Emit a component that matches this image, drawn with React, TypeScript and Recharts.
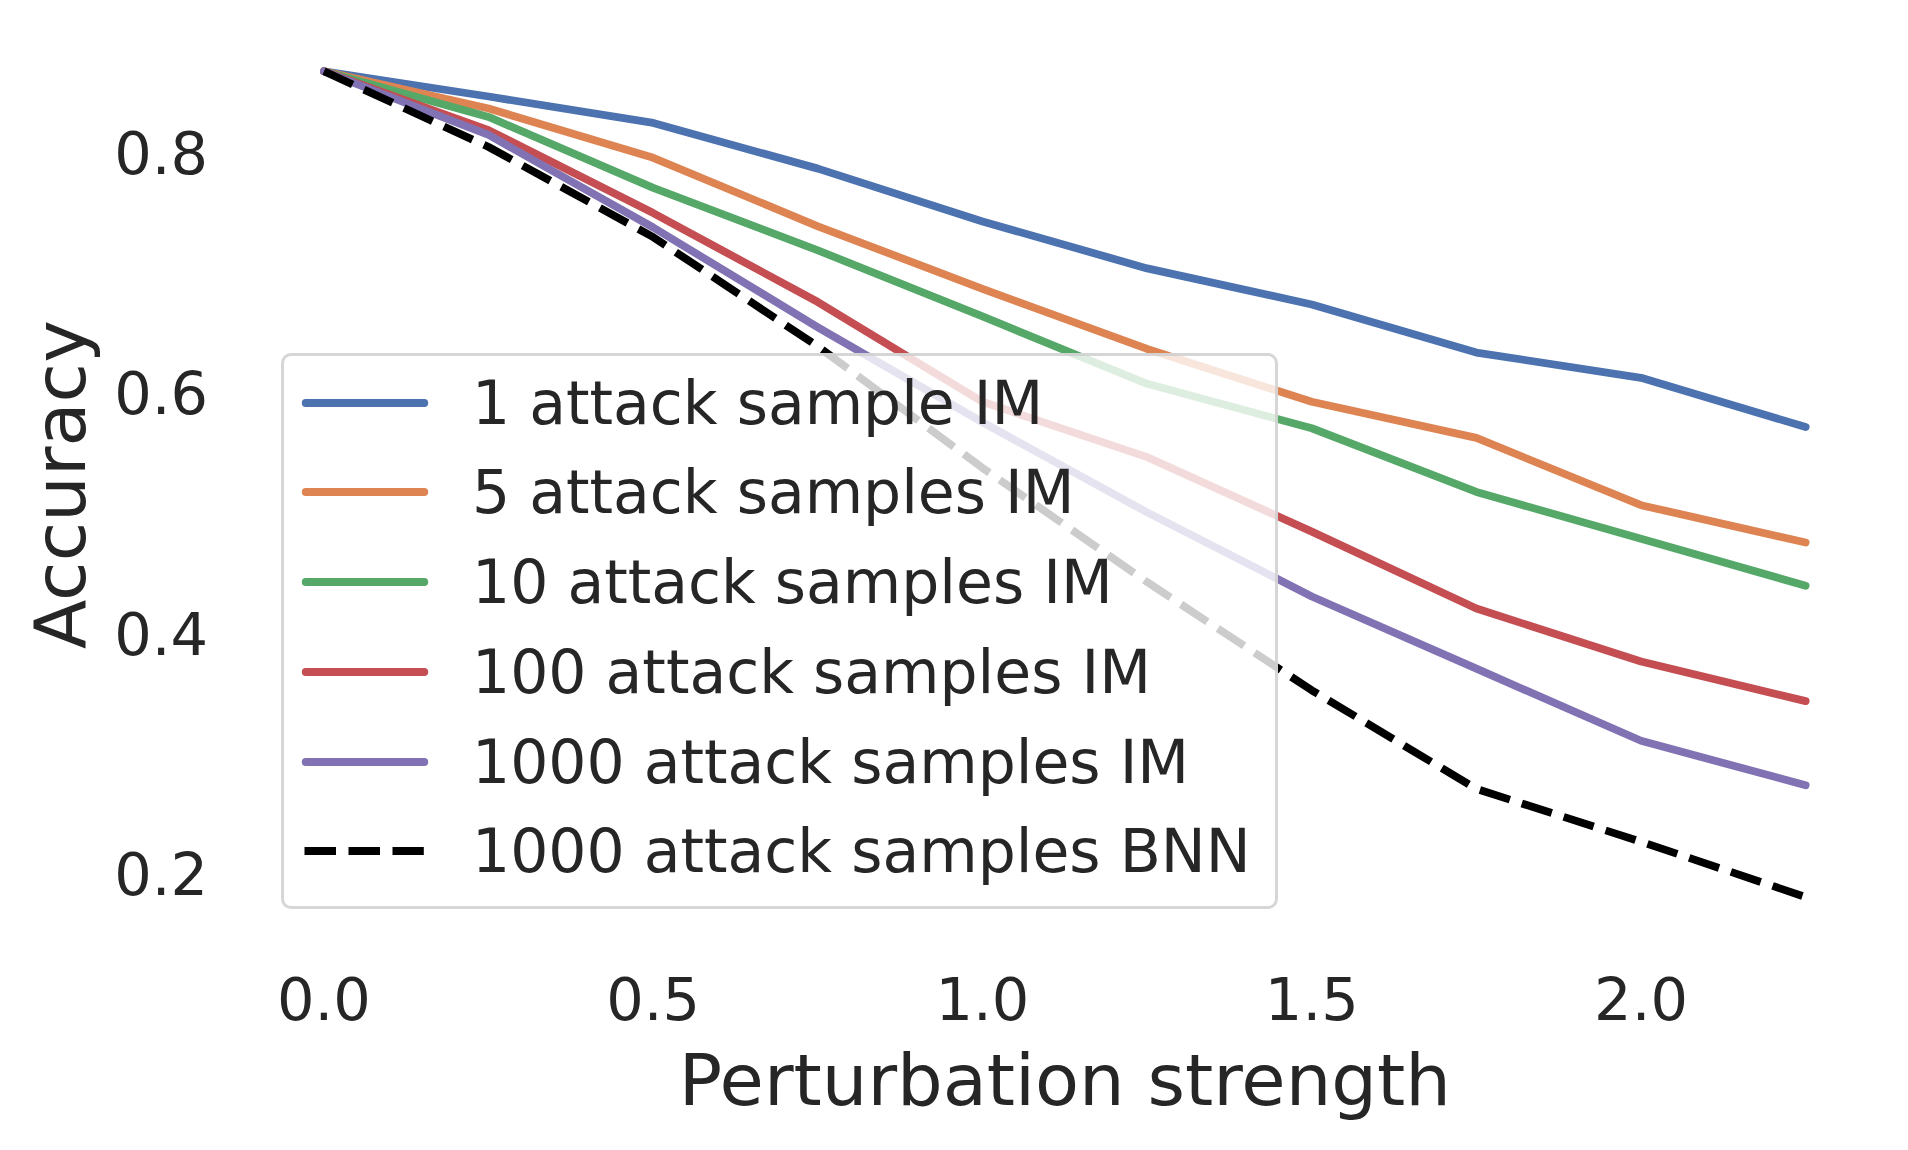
import React from 'react';
import { LineChart, Line, XAxis, YAxis, Label } from 'recharts';

const strengths = [0, 0.25, 0.5, 0.75, 1, 1.25, 1.5, 1.75, 2, 2.25];
const im1 = [0.868, 0.847, 0.825, 0.787, 0.743, 0.704, 0.674, 0.634, 0.613, 0.572];
const im5 = [0.868, 0.837, 0.796, 0.739, 0.687, 0.637, 0.593, 0.563, 0.507, 0.476];
const im10 = [0.868, 0.83, 0.771, 0.719, 0.664, 0.608, 0.571, 0.518, 0.479, 0.44];
const im100 = [0.868, 0.819, 0.75, 0.676, 0.593, 0.547, 0.485, 0.421, 0.377, 0.344];
const im1000 = [0.868, 0.815, 0.738, 0.655, 0.576, 0.501, 0.431, 0.371, 0.311, 0.274];
const bnn1000 = [0.868, 0.805, 0.73, 0.639, 0.538, 0.443, 0.353, 0.271, 0.227, 0.181];

const xTicks = [0, 0.5, 1, 1.5, 2];
const yTicks = [0.2, 0.4, 0.6, 0.8];

const seriesNames = [
  '1 attack sample IM',
  '5 attack samples IM',
  '10 attack samples IM',
  '100 attack samples IM',
  '1000 attack samples IM',
  '1000 attack samples BNN',
];
const seriesKeys = ['im1', 'im5', 'im10', 'im100', 'im1000', 'bnn1000'];
const seriesColors = ['#4C72B0', '#DD8452', '#55A868', '#C44E52', '#8172B3', '#000000'];
const seriesDashed = [false, false, false, false, false, true];
const seriesValues = [im1, im5, im10, im100, im1000, bnn1000];

const rows = strengths.map((x, i) => {
  const r: Record<string, number> = { x };
  seriesKeys.forEach((k, j) => {
    r[k] = seriesValues[j][i];
  });
  return r;
});

const FONT = '"DejaVu Sans", "Liberation Sans", sans-serif';
const TEXT = '#262626';
const W = 1892;
const H = 1134;
const LW = 7.8;
const DASH = '31.5 12.5';

const XTitle = (props: any) => {
  const vb = props.viewBox || { x: 250.15, y: 926.3, width: 1613.35, height: 207.7 };
  return (
    <text
      x={vb.x + vb.width / 2}
      y={vb.y + 170.7}
      textAnchor="middle"
      fill={TEXT}
      fontSize={72}
      fontFamily={FONT}
    >
      Perturbation strength
    </text>
  );
};

const YTitle = (props: any) => {
  const vb = props.viewBox || { x: 0, y: 24.8, width: 250.15, height: 901.5 };
  const cx = vb.x + 77;
  const cy = vb.y + vb.height / 2 + 1;
  return (
    <text
      x={cx}
      y={cy}
      transform={`rotate(-90, ${cx}, ${cy})`}
      textAnchor="middle"
      fill={TEXT}
      fontSize={72}
      fontFamily={FONT}
    >
      Accuracy
    </text>
  );
};

const LegendBox = () => (
  <div
    style={{
      position: 'absolute',
      left: 273,
      top: 344.5,
      width: 997,
      height: 556,
      boxSizing: 'border-box',
      border: '3px solid rgba(204,204,204,0.8)',
      borderRadius: 10,
      background: 'rgba(255,255,255,0.8)',
      fontFamily: FONT,
      color: TEXT,
      fontSize: 60,
    }}
  >
    {seriesNames.map((name, i) => {
      const center = 47.2 + i * 89.7;
      return (
        <div
          key={name}
          style={{ position: 'absolute', left: 0, top: center - 40, width: '100%', height: 80 }}
        >
          <svg width={170} height={80} style={{ position: 'absolute', left: 0, top: 0 }}>
            {seriesDashed[i] ? (
              <line
                x1={20.5}
                x2={139.8}
                y1={40}
                y2={40}
                stroke={seriesColors[i]}
                strokeWidth={LW}
                strokeDasharray={DASH}
                strokeLinecap="butt"
              />
            ) : (
              <line
                x1={21.7}
                x2={140.3}
                y1={40}
                y2={40}
                stroke={seriesColors[i]}
                strokeWidth={LW}
                strokeLinecap="round"
              />
            )}
          </svg>
          <span
            style={{
              position: 'absolute',
              left: 188,
              top: 0,
              height: 80,
              lineHeight: '80px',
              whiteSpace: 'nowrap',
            }}
          >
            {name}
          </span>
        </div>
      );
    })}
  </div>
);

export default function App() {
  return (
    <div style={{ position: 'relative', width: W, height: H, background: '#ffffff' }}>
      <LineChart
        width={W}
        height={H}
        data={rows}
        margin={{ top: 24.8, right: 28.5, left: 0, bottom: 0 }}
      >
        <XAxis
          dataKey="x"
          type="number"
          domain={[-0.1, 2.35]}
          ticks={xTicks}
          interval={0}
          allowDataOverflow
          tickFormatter={(v: number) => v.toFixed(1)}
          axisLine={false}
          tickLine={false}
          tickSize={0}
          tickMargin={44}
          height={207.7}
          tick={{ fill: TEXT, fontSize: 59, fontFamily: FONT }}
        >
          <Label content={XTitle} />
        </XAxis>
        <YAxis
          type="number"
          domain={[0.15, 0.9]}
          ticks={yTicks}
          interval={0}
          allowDataOverflow
          tickFormatter={(v: number) => v.toFixed(1)}
          axisLine={false}
          tickLine={false}
          tickSize={0}
          tickMargin={50.15}
          width={250.15}
          tick={{ fill: TEXT, fontSize: 59, fontFamily: FONT }}
        >
          <Label content={YTitle} />
        </YAxis>
        {seriesKeys.map((k, i) => (
          <Line
            key={k}
            type="linear"
            dataKey={k}
            name={seriesNames[i]}
            stroke={seriesColors[i]}
            strokeWidth={LW}
            strokeDasharray={seriesDashed[i] ? DASH : undefined}
            strokeLinecap={seriesDashed[i] ? 'butt' : 'round'}
            strokeLinejoin="round"
            dot={false}
            activeDot={false}
            isAnimationActive={false}
          />
        ))}
      </LineChart>
      <LegendBox />
    </div>
  );
}
